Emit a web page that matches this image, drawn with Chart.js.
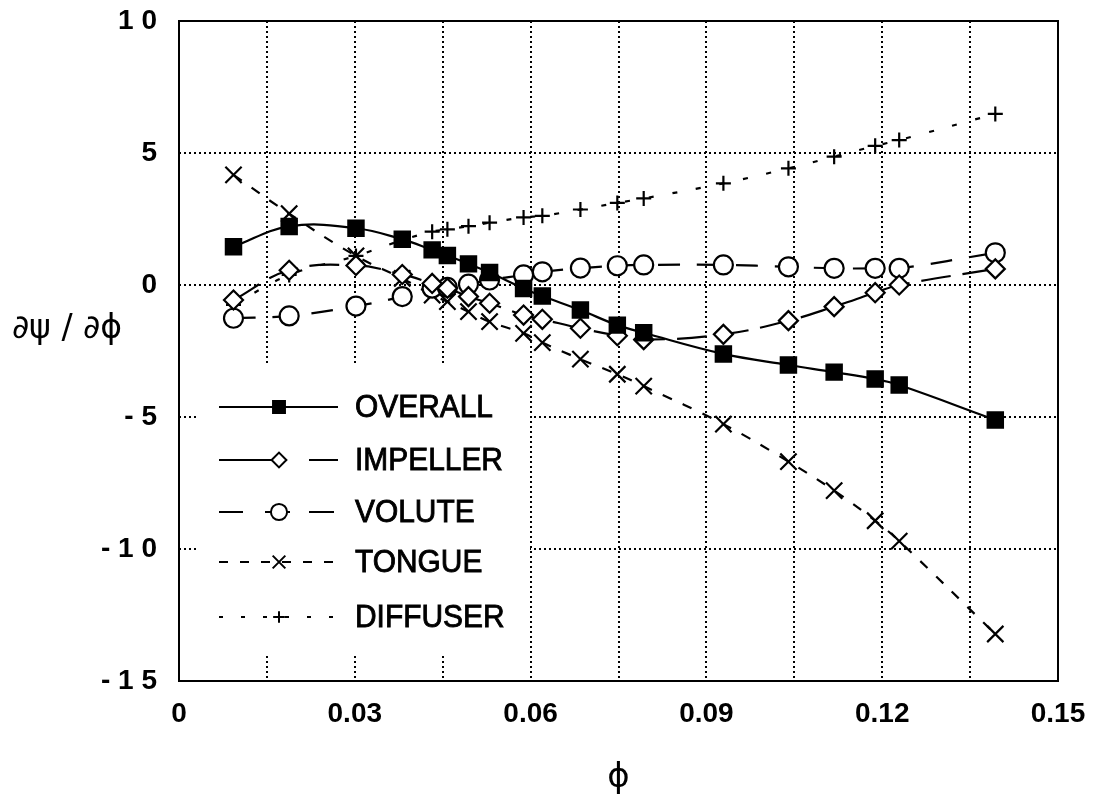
<!DOCTYPE html>
<html>
<head>
<meta charset="utf-8">
<script src="https://cdn.jsdelivr.net/npm/chart.js@4/dist/chart.umd.min.js"></script>
<style>
  html, body { margin: 0; padding: 0; background: #fff; }
  #wrap { width: 1099px; height: 806px; }
</style>
</head>
<body>
<div id="wrap"><canvas id="c" width="1099" height="806"></canvas></div>
<script>
// Flow coefficient at each measured operating point
const phi = [0.0093, 0.0188, 0.0302, 0.0381, 0.0432, 0.0458, 0.0494, 0.0530, 0.0588, 0.0620,
             0.0685, 0.0748, 0.0793, 0.0929, 0.1040, 0.1118, 0.1188, 0.1229, 0.1393];

// Slope of the head coefficient, dpsi/dphi, for the whole stage and each component
const overall  = [1.45, 2.22, 2.15, 1.73, 1.33, 1.12, 0.80, 0.47, -0.13, -0.42,
                  -0.95, -1.52, -1.81, -2.61, -3.03, -3.30, -3.56, -3.79, -5.11];
const impeller = [-0.57, 0.56, 0.74, 0.40, 0.06, -0.12, -0.44, -0.69, -1.14, -1.30,
                  -1.64, -1.92, -2.07, -1.87, -1.35, -0.82, -0.29, 0.00, 0.61];
const volute   = [-1.26, -1.17, -0.80, -0.44, -0.12, -0.09, 0.03, 0.19, 0.38, 0.50,
                  0.64, 0.73, 0.76, 0.76, 0.69, 0.63, 0.63, 0.63, 1.22];
const tongue   = [4.17, 2.70, 1.10, 0.25, -0.38, -0.63, -1.01, -1.39, -1.83, -2.18,
                  -2.81, -3.38, -3.83, -5.27, -6.69, -7.79, -8.93, -9.70, -13.22];
const diffuser = [-0.75, 0.38, 1.10, 1.70, 2.02, 2.11, 2.23, 2.36, 2.56, 2.62,
                  2.86, 3.11, 3.28, 3.85, 4.42, 4.86, 5.27, 5.49, 6.48];

const seriesNames = ['OVERALL', 'IMPELLER', 'VOLUTE', 'TONGUE', 'DIFFUSER'];

// Axis ticks
const xTickValues = [0, 0.015, 0.03, 0.045, 0.06, 0.075, 0.09, 0.105, 0.12, 0.135, 0.15];
const xTickLabels = ['0', '', '0.03', '', '0.06', '', '0.09', '', '0.12', '', '0.15'];
const yTickValues = [-15, -10, -5, 0, 5, 10];
const yTickLabels = ['- 1 5', '- 1 0', '- 5', '0', '5', '1 0'];

const yTitle = '\u2202\u03C8 / \u2202\u03D5';
const xTitle = '\u03D5';

const pts = arr => phi.map((x, i) => ({ x: x, y: arr[i] }));

const styles = [
  { data: overall,  dash: [],        legendDash: [],                      point: 'rect',     r: 10.8, fill: '#000' },
  { data: impeller, dash: [30, 12],  legendDash: [68, 22, 40, 10],        point: 'rectRot',  r: 9.5,  fill: '#fff' },
  { data: volute,   dash: [22, 17],  legendDash: [24, 22, 25, 19, 25, 20], point: 'circle',   r: 9.5,  fill: '#fff' },
  { data: tongue,   dash: [10, 12],  legendDash: [9, 12],                 point: 'crossRot', r: 11.5, fill: '#fff' },
  { data: diffuser, dash: [5, 19],   legendDash: [4, 18],                 point: 'cross',    r: 7.5,  fill: '#fff' }
];

const datasets = styles.map((s, i) => ({
  label: seriesNames[i],
  data: pts(s.data),
  borderColor: '#000',
  borderWidth: 2.2,
  borderDash: s.dash,
  tension: 0.4,
  pointStyle: s.point,
  pointRadius: s.r,
  pointHoverRadius: s.r,
  pointBackgroundColor: s.fill,
  pointBorderColor: '#000',
  pointBorderWidth: 2.2,
  fill: false
}));

const edgeClear = (ctx, lo, hi) => {
  const v = ctx.tick ? ctx.tick.value : null;
  return (Math.abs(v - lo) < 1e-9 || Math.abs(v - hi) < 1e-9) ? 'rgba(0,0,0,0)' : '#000';
};

// Frame, in-plot legend and axis titles
const decor = {
  id: 'decor',
  beforeDatasetsDraw(chart) {
    const { ctx, chartArea: a } = chart;
    ctx.save();
    ctx.strokeStyle = '#000';
    ctx.lineWidth = 2;
    ctx.setLineDash([]);
    ctx.strokeRect(a.left, a.top, a.right - a.left, a.bottom - a.top);
    ctx.restore();
  },
  afterDatasetsDraw(chart) {
    const { ctx } = chart;
    ctx.save();
    // white legend panel
    ctx.fillStyle = '#fff';
    ctx.fillRect(198, 365, 332, 288);
    const rows = [407, 460, 512, 562, 617];
    const x0 = 219, x1 = 338, xm = 279, xt = 355;
    ctx.font = '32px "Liberation Sans", Arial, sans-serif';
    const sx = 138 / ctx.measureText('OVERALL').width;
    chart.data.datasets.forEach((ds, i) => {
      const y = rows[i];
      ctx.strokeStyle = '#000';
      ctx.lineWidth = 2;
      ctx.setLineDash(styles[i].legendDash);
      ctx.beginPath();
      ctx.moveTo(x0, y);
      ctx.lineTo(x1, y);
      ctx.stroke();
      ctx.setLineDash([]);
      const r = ds.pointRadius * (ds.pointStyle === 'circle' ? 0.85 : 0.78);
      ctx.fillStyle = ds.pointBackgroundColor;
      ctx.strokeStyle = '#000';
      ctx.lineWidth = 2;
      Chart.helpers.drawPoint(ctx, { pointStyle: ds.pointStyle, radius: r, borderWidth: 2 }, xm, y);
      ctx.save();
      ctx.fillStyle = '#000';
      ctx.strokeStyle = '#000';
      ctx.lineWidth = 0.9;
      ctx.textBaseline = 'middle';
      ctx.textAlign = 'left';
      ctx.translate(xt, y + 1);
      ctx.scale(sx, 1);
      ctx.fillText(ds.label, 0, 0);
      ctx.strokeText(ds.label, 0, 0);
      ctx.restore();
    });
    ctx.restore();
  },
  afterDraw(chart) {
    const { ctx, chartArea: a } = chart;
    ctx.save();
    ctx.fillStyle = '#000';
    ctx.textBaseline = 'middle';
    ctx.font = '33px "DejaVu Sans", sans-serif';
    ctx.textAlign = 'left';
    const w = ctx.measureText(yTitle).width;
    ctx.save();
    ctx.translate(12, 329);
    ctx.scale(110 / w, 1);
    ctx.fillText(yTitle, 0, 0);
    ctx.restore();
    ctx.textAlign = 'center';
    ctx.font = '34px "DejaVu Sans", sans-serif';
    ctx.fillText(xTitle, (a.left + a.right) / 2, 778);
    ctx.restore();
  }
};

new Chart(document.getElementById('c'), {
  type: 'line',
  data: { datasets: datasets },
  options: {
    responsive: false,
    animation: false,
    events: [],
    layout: { padding: { top: 21, right: 41, left: 0, bottom: 0 } },
    plugins: { legend: { display: false }, tooltip: { enabled: false }, title: { display: false } },
    scales: {
      x: {
        type: 'linear',
        min: 0, max: 0.15,
        afterBuildTicks: s => { s.ticks = xTickValues.map(v => ({ value: v })); },
        afterFit: s => { s.height = 125; s.paddingLeft = 0; s.paddingRight = 0; },
        ticks: {
          autoSkip: false, maxRotation: 0, padding: 16,
          color: '#000',
          font: { family: '"Liberation Sans", Arial, sans-serif', size: 28, weight: 'bold' },
          callback: (v, i) => xTickLabels[i]
        },
        grid: { drawTicks: false, lineWidth: 2, color: c => edgeClear(c, 0, 0.15) },
        border: { display: false, dash: [2, 3] }
      },
      y: {
        type: 'linear',
        min: -15, max: 10,
        afterBuildTicks: s => { s.ticks = yTickValues.map(v => ({ value: v })); },
        afterFit: s => { s.width = 179; s.paddingTop = 0; s.paddingBottom = 0; },
        ticks: {
          autoSkip: false, padding: 22,
          color: '#000',
          font: { family: '"Liberation Sans", Arial, sans-serif', size: 28, weight: 'bold' },
          callback: (v, i) => yTickLabels[i]
        },
        grid: { drawTicks: false, lineWidth: 2, color: c => edgeClear(c, -15, 10) },
        border: { display: false, dash: [2, 3] }
      }
    }
  },
  plugins: [decor]
});
</script>
</body>
</html>
